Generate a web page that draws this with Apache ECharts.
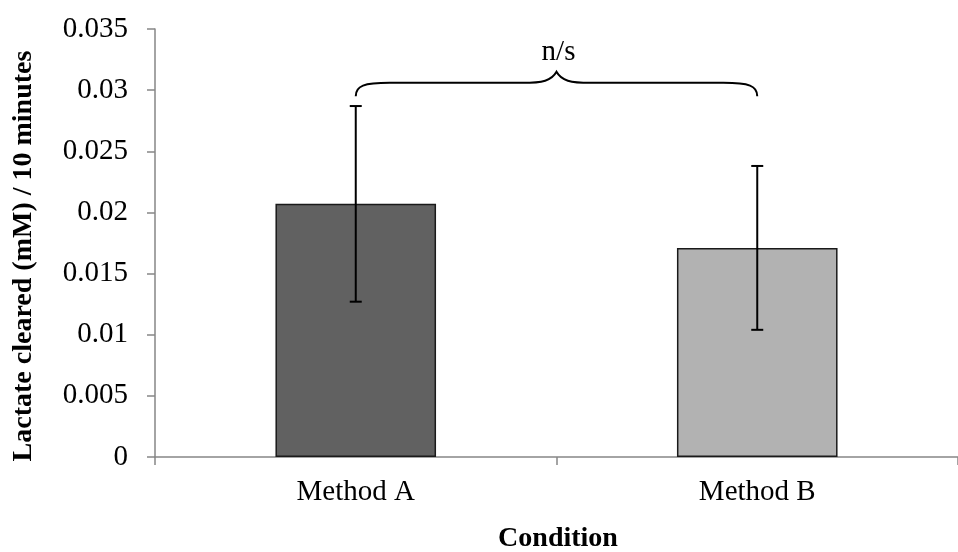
<!DOCTYPE html>
<html>
<head>
<meta charset="utf-8">
<script src="https://cdn.jsdelivr.net/npm/echarts@6/dist/echarts.min.js"></script>
<style>html,body{margin:0;padding:0;background:#fff}#chart{width:958px;height:552px}</style>
</head>
<body>
<div id="chart"></div>
<script>
// ---- data ----
var categories = ['Method A', 'Method B'];
var means = [0.0207, 0.0171];
var errors = [0.0080, 0.0067];
var barColors = ['#616161', '#b2b2b2'];
var yTicks = [0, 0.005, 0.01, 0.015, 0.02, 0.025, 0.03, 0.035];
// significance annotation levels (data units)
var braceEnd = 0.0295, braceLine = 0.0306, bracePeak = 0.0315, sigLabelLevel = 0.0331;
var sigLabel = 'n/s';

var FONT = "'Liberation Serif','Times New Roman',serif";
var chart = echarts.init(document.getElementById('chart'), null, {renderer: 'canvas'});

var option = {
  animation: false,
  backgroundColor: '#ffffff',
  grid: {left: 155, right: -11, top: 29, bottom: 95, containLabel: false},
  xAxis: {
    type: 'category',
    data: categories,
    boundaryGap: true,
    axisLine: {lineStyle: {color: '#868686', width: 1.5}},
    axisTick: {show: true, length: 8, inside: false, lineStyle: {color: '#868686', width: 1.5}},
    axisLabel: {color: '#000', fontFamily: FONT, fontSize: 29, margin: 21},
    splitLine: {show: false}
  },
  yAxis: {
    type: 'value',
    min: yTicks[0],
    max: yTicks[yTicks.length - 1],
    interval: 0.005,
    axisLine: {show: true, lineStyle: {color: '#868686', width: 1.5}},
    axisTick: {show: true, length: 8, lineStyle: {color: '#868686', width: 1.5}},
    axisLabel: {
      color: '#000', fontFamily: FONT, fontSize: 29, margin: 27,
      formatter: function (v) { return String(+(+v).toFixed(3)); }
    },
    splitLine: {show: false}
  },
  graphic: [
    {type: 'text', x: 24, y: 256, rotation: Math.PI / 2,
     style: {text: 'Lactate cleared (mM) / 10 minutes', font: 'bold 28px ' + FONT, fill: '#000', align: 'center', verticalAlign: 'middle'}},
    {type: 'text', x: 558, y: 539,
     style: {text: 'Condition', font: 'bold 28px ' + FONT, fill: '#000', align: 'center', verticalAlign: 'middle'}}
  ],
  series: [
    {
      type: 'bar',
      barWidth: '40%',
      data: means.map(function (v, i) {
        return {value: v, itemStyle: {color: barColors[i], borderColor: '#1a1a1a', borderWidth: 1.5}};
      }),
      z: 2
    },
    {
      type: 'custom',
      z: 5,
      data: categories.map(function (c, i) { return [i, means[i], errors[i]]; }),
      renderItem: function (params, api) {
        var x = api.value(0), m = api.value(1), e = api.value(2);
        var t = api.coord([x, m + e]), b = api.coord([x, m - e]);
        var hw = 6, st = {stroke: '#000', lineWidth: 2};
        return {type: 'group', children: [
          {type: 'line', shape: {x1: t[0], y1: t[1], x2: b[0], y2: b[1]}, style: st},
          {type: 'line', shape: {x1: t[0] - hw, y1: t[1], x2: t[0] + hw, y2: t[1]}, style: st},
          {type: 'line', shape: {x1: b[0] - hw, y1: b[1], x2: b[0] + hw, y2: b[1]}, style: st}
        ]};
      }
    },
    {
      type: 'custom',
      z: 6,
      data: [[0, 1]],
      renderItem: function (params, api) {
        var a = api.coord([0, braceEnd]), b = api.coord([1, braceEnd]);
        var xA = a[0], xB = b[0], yE = a[1];
        var yL = api.coord([0, braceLine])[1];
        var yP = api.coord([0, bracePeak])[1];
        var yT = api.coord([0, sigLabelLevel])[1];
        var xM = (xA + xB) / 2;
        var d = 'M' + xA + ',' + yE +
          ' C' + xA + ',' + (yL + 3) + ' ' + (xA + 8) + ',' + yL + ' ' + (xA + 34) + ',' + yL +
          ' L' + (xM - 34) + ',' + yL +
          ' C' + (xM - 14) + ',' + yL + ' ' + (xM - 5) + ',' + (yL - 2) + ' ' + xM + ',' + yP +
          ' C' + (xM + 5) + ',' + (yL - 2) + ' ' + (xM + 14) + ',' + yL + ' ' + (xM + 34) + ',' + yL +
          ' L' + (xB - 34) + ',' + yL +
          ' C' + (xB - 8) + ',' + yL + ' ' + xB + ',' + (yL + 3) + ' ' + xB + ',' + yE;
        return {type: 'group', children: [
          {type: 'path', shape: {pathData: d}, style: {stroke: '#000', lineWidth: 2, fill: null}},
          {type: 'text', x: xM + 2, y: yT, style: {text: sigLabel, font: '29px ' + FONT, fill: '#000', align: 'center', verticalAlign: 'middle'}}
        ]};
      }
    }
  ]
};
chart.setOption(option);
</script>
</body>
</html>
